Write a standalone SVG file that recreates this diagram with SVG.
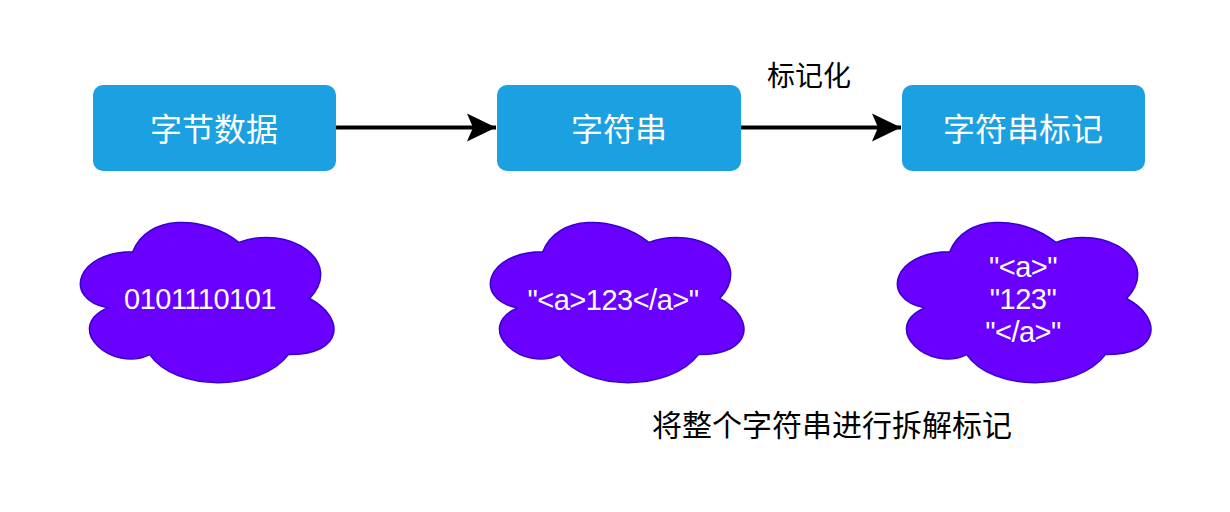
<svg xmlns="http://www.w3.org/2000/svg" width="1230" height="512" viewBox="0 0 1230 512">
<style>
.box{fill:#1BA1E2;}
.cloud{fill:#6A00FF;stroke:#3700CC;stroke-width:1.5;}
.btxt{font-family:"Noto Sans CJK SC",sans-serif;font-size:32px;fill:#ffffff;text-anchor:middle;}
.ctxt{font-family:"Liberation Sans",Arial,sans-serif;font-size:29px;letter-spacing:-0.5px;fill:#ffffff;text-anchor:middle;}
.lbl{font-family:"Noto Sans CJK SC",sans-serif;fill:#000000;text-anchor:middle;}
.conn{stroke:#000000;stroke-width:4;fill:none;}
</style>
<defs>
<marker id="arr" markerUnits="userSpaceOnUse" markerWidth="32" markerHeight="32" viewBox="0 0 32 32" refX="29" refY="16" orient="auto">
<path d="M0,2 L29,16 L0,30 L6,16 Z" fill="#000000"/>
</marker>
<path id="cloudShape" d="M70.75,46.75 C14.15,46.75 0,93.5 45.28,102.85 C0,123.42 50.94,168.3 87.73,149.6 C113.2,187 198.1,187 226.4,149.6 C283,149.6 283,112.2 247.63,93.5 C283,56.1 226.4,18.7 176.88,37.4 C141.5,9.35 84.9,9.35 70.75,46.75 Z"/>
</defs>
<rect width="1230" height="512" fill="#ffffff"/>
<g id="connectors">
<line class="conn" x1="336" y1="127.5" x2="496" y2="127.5" marker-end="url(#arr)"/>
<line class="conn" x1="741" y1="127.5" x2="901" y2="127.5" marker-end="url(#arr)"/>
<text class="lbl" x="809" y="86" font-size="28">标记化</text>
</g>
<g id="node-bytes">
<rect class="box" x="93" y="85" width="243" height="86" rx="10"/>
<text class="btxt" x="214" y="141">字节数据</text>
</g>
<g id="node-string">
<rect class="box" x="497" y="85" width="244" height="86" rx="10"/>
<text class="btxt" x="619" y="141">字符串</text>
</g>
<g id="node-tokens">
<rect class="box" x="902" y="85" width="243" height="86" rx="10"/>
<text class="btxt" x="1023" y="141">字符串标记</text>
</g>
<g id="cloud-bytes">
<use href="#cloudShape" class="cloud" transform="translate(62,205)"/>
<text class="ctxt" x="200" y="309">0101110101</text>
</g>
<g id="cloud-string">
<use href="#cloudShape" class="cloud" transform="translate(472,205)"/>
<text class="ctxt" x="613" y="310">"&lt;a&gt;123&lt;/a&gt;"</text>
</g>
<g id="cloud-tokens">
<use href="#cloudShape" class="cloud" transform="translate(879,205)"/>
<text class="ctxt" x="1023" y="277">"&lt;a&gt;"</text>
<text class="ctxt" x="1023" y="309">"123"</text>
<text class="ctxt" x="1023" y="342">"&lt;/a&gt;"</text>
</g>
<g id="note">
<text class="lbl" x="832" y="436" font-size="30">将整个字符串进行拆解标记</text>
</g>
</svg>
